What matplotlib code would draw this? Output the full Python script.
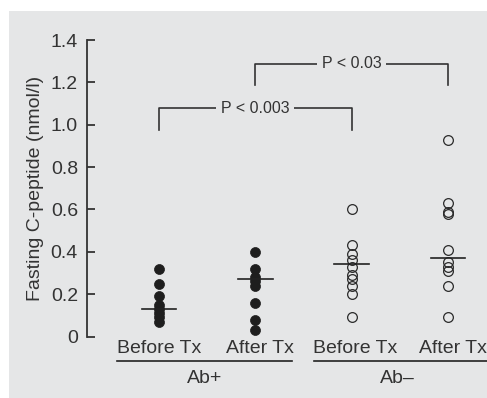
import matplotlib
matplotlib.use("Agg")
import matplotlib.pyplot as plt
from matplotlib.patches import Rectangle
from matplotlib.lines import Line2D
from matplotlib.transforms import blended_transform_factory, offset_copy

# ---------------- data ----------------
categories = ['Before Tx', 'After Tx', 'Before Tx', 'After Tx']
groups = ['Ab+', 'Ab\u2013']
ab_pos_before = [0.32, 0.25, 0.19, 0.15, 0.13, 0.11, 0.09, 0.07]
ab_pos_after = [0.40, 0.32, 0.28, 0.26, 0.24, 0.16, 0.08, 0.03]
ab_neg_before = [0.60, 0.43, 0.39, 0.36, 0.33, 0.29, 0.27, 0.24, 0.20, 0.09]
ab_neg_after = [0.93, 0.63, 0.59, 0.58, 0.41, 0.35, 0.33, 0.31, 0.24, 0.09]
center_lines = [0.13, 0.27, 0.34, 0.37]
p_labels = ['P < 0.003', 'P < 0.03']
bracket_pairs = [(0, 2), (1, 3)]
bracket_heights = [1.077, 1.287]
y_ticks = [0, 0.2, 0.4, 0.6, 0.8, 1.0, 1.2, 1.4]
y_tick_labels = ['0', '0.2', '0.4', '0.6', '0.8', '1.0', '1.2', '1.4']

series = [ab_pos_before, ab_pos_after, ab_neg_before, ab_neg_after]
filled = [True, True, False, False]

# ---------------- style ----------------
W, H = 487, 398
BG = '#e5e6e7'
INK = '#333333'
plt.rcParams['font.family'] = ['Liberation Sans', 'DejaVu Sans']

fig = plt.figure(figsize=(W / 100, H / 100), dpi=100)
fig.patch.set_facecolor('white')
fig.patches.append(Rectangle((9 / W, 0), 1 - 9 / W, 1 - 11 / H,
                             transform=fig.transFigure, facecolor=BG,
                             edgecolor='none', zorder=-10))

left, top, right, bottom = 87, 40, 487, 336.5
ax = fig.add_axes([left / W, 1 - bottom / H, (right - left) / W, (bottom - top) / H])
ax.set_facecolor('none')
ax.set_zorder(5)

spacing = 96.3
xmin = (left - 159) / spacing
xmax = (right - 159) / spacing
ax.set_xlim(xmin, xmax)
ax.set_ylim(0, 1.4)

for s in ['top', 'right', 'bottom']:
    ax.spines[s].set_visible(False)
ax.spines['left'].set_color(INK)
ax.spines['left'].set_linewidth(1.3)

ax.set_yticks(y_ticks)
ax.set_yticklabels(y_tick_labels)
ax.tick_params(axis='y', direction='in', length=6, width=1.3, color=INK,
               labelsize=14, labelcolor=INK, pad=6.5)
ax.set_xticks([])

# points
for i, (vals, f) in enumerate(zip(series, filled)):
    xs = [i] * len(vals)
    if f:
        ax.plot(xs, vals, 'o', ms=7.2, mfc='#1e1e1e', mec='#1e1e1e', mew=0.5,
                ls='none', zorder=3, clip_on=False)
    else:
        ax.plot(xs, vals, 'o', ms=7, mfc='none', mec='#2a2a2a', mew=0.9,
                ls='none', zorder=3, clip_on=False)
    ax.plot([i - 0.18, i + 0.18], [center_lines[i], center_lines[i]],
            color='#222222', lw=1.2, zorder=4)

# brackets
drop = 0.1
for (a, b), h, lab in zip(bracket_pairs, bracket_heights, p_labels):
    ax.plot([a, a, b, b], [h - drop, h, h, h - drop], color=INK, lw=1.2,
            zorder=2, clip_on=False)
    ax.text((a + b) / 2, h, lab, ha='center', va='center', fontsize=11.5,
            color=INK, zorder=5,
            bbox=dict(facecolor=BG, edgecolor='none', pad=3.5))

# category labels
tr = blended_transform_factory(ax.transData, fig.transFigure)
label_shift_px = [0, 5, 4, 5]
for i, c in enumerate(categories):
    t = offset_copy(tr, fig=fig, x=label_shift_px[i] * 0.72, y=0, units='points')
    ax.text(i, 1 - 353.3 / H, c, transform=t, ha='center', va='baseline',
            fontsize=14, color=INK, clip_on=False)

# group lines and labels
group_spans = [(116.7, 292.3), (314.3, 487)]
group_centers = [204.5, 397.5]
for (x0, x1), gc, g in zip(group_spans, group_centers, groups):
    fig.lines.append(Line2D([x0 / W, x1 / W], [1 - 361 / H] * 2,
                            transform=fig.transFigure, color='#222222', lw=1.2))
    fig.text(gc / W, 1 - 382.7 / H, g, ha='center', va='baseline',
             fontsize=14, color=INK)

# y label
fig.text(36 / W, 1 - 188.3 / H, 'Fasting C-peptide (nmol/l)', rotation=90,
         ha='center', va='center', fontsize=14, color=INK)

fig.savefig('out.png', dpi=100, facecolor='white')
